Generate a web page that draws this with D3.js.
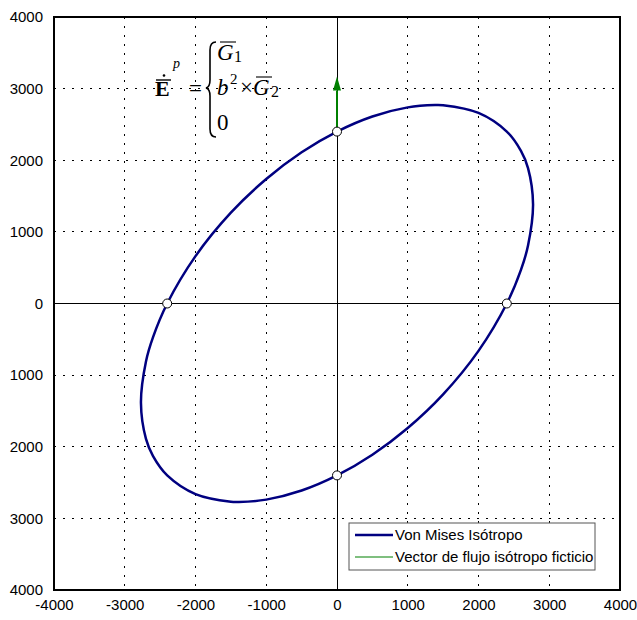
<!DOCTYPE html>
<html lang="es">
  <head>
    <meta charset="UTF-8" />
    <script src="https://cdn.jsdelivr.net/npm/d3@7"></script>
    <title>Von Mises</title>
    <style>
      body { margin: 0; background: white; }
      .tick text { font-family: "Liberation Sans", Arial, sans-serif; font-size: 15px; fill: black; }
      .formula { font-family: "Liberation Serif", "Times New Roman", serif; }
    </style>
  </head>
  <body>
    <script>
      // ---------- data ----------
      // von Mises ellipse (sigma1, sigma2), traced clockwise
      const sigma1 = [-2771, -2700, -2600, -2400, -2000, -1500, -1000, -500, 0, 500, 1000, 1386, 1500, 2000, 2400, 2600, 2700, 2771,
                      2700, 2600, 2400, 2000, 1500, 1000, 500, 0, -500, -1000, -1386, -1500, -2000, -2400, -2600, -2700];
      const sigma2 = [-1386, -809, -469, 0, 661, 1268, 1738, 2111, 2400, 2611, 2738, 2771, 2768, 2661, 2400, 2131, 1891, 1386,
                      809, 469, 0, -661, -1268, -1738, -2111, -2400, -2611, -2738, -2771, -2768, -2661, -2400, -2131, -1891];
      // intersection markers
      const markX = [0, 2400, -2400, 0];
      const markY = [2400, 0, 0, -2400];
      // fictitious flow vector
      const arrowFrom = [0, 2400];
      const arrowTo = [0, 3170];

      const xTicks = [-4000, -3000, -2000, -1000, 0, 1000, 2000, 3000, 4000];
      const xTickLabels = ["-4000", "-3000", "-2000", "-1000", "0", "1000", "2000", "3000", "4000"];
      const yTicks = [4000, 3000, 2000, 1000, 0, -1000, -2000, -3000, -4000];
      const yTickLabels = ["4000", "3000", "2000", "1000", "0", "1000", "2000", "3000", "4000"];
      const gridValues = [-3000, -2000, -1000, 1000, 2000, 3000];

      const legendNames = ["Von Mises Isótropo", "Vector de flujo isótropo ficticio"];
      const legendColors = ["#000080", "#008000"];

      // ---------- layout ----------
      const width = 637, height = 620;
      const plot = { left: 54, right: 620, top: 17, bottom: 590 };

      const x = d3.scaleLinear().domain([-4000, 4000]).range([plot.left, plot.right]);
      const y = d3.scaleLinear().domain([-4000, 4000]).range([plot.bottom, plot.top]);

      const svg = d3.select("body").append("svg")
        .attr("width", width).attr("height", height);

      // dotted grid
      svg.append("g").selectAll("line").data(gridValues).join("line")
        .attr("x1", d => x(d)).attr("x2", d => x(d))
        .attr("y1", plot.top).attr("y2", plot.bottom)
        .attr("stroke", "#000").attr("stroke-width", 1)
        .attr("shape-rendering", "crispEdges")
        .attr("stroke-dasharray", "2,7");
      svg.append("g").selectAll("line").data(gridValues).join("line")
        .attr("y1", d => y(d)).attr("y2", d => y(d))
        .attr("x1", plot.left).attr("x2", plot.right)
        .attr("stroke", "#000").attr("stroke-width", 1)
        .attr("shape-rendering", "crispEdges")
        .attr("stroke-dasharray", "2,7");

      // zero axes
      svg.append("line")
        .attr("x1", x(0)).attr("x2", x(0)).attr("y1", plot.top).attr("y2", plot.bottom)
        .attr("stroke", "#000").attr("stroke-width", 1).attr("shape-rendering", "crispEdges");
      svg.append("line")
        .attr("y1", y(0)).attr("y2", y(0)).attr("x1", plot.left).attr("x2", plot.right)
        .attr("stroke", "#000").attr("stroke-width", 1).attr("shape-rendering", "crispEdges");

      // tick labels via d3 axes
      const xAxis = d3.axisBottom(x).tickValues(xTicks)
        .tickFormat((d, i) => xTickLabels[i]).tickSize(0).tickPadding(9);
      svg.append("g").attr("transform", `translate(0,${plot.bottom})`).call(xAxis)
        .call(g => g.select(".domain").remove());
      const yAxis = d3.axisLeft(y).tickValues(yTicks)
        .tickFormat((d, i) => yTickLabels[i]).tickSize(0).tickPadding(11);
      svg.append("g").attr("transform", `translate(${plot.left},0)`).call(yAxis)
        .call(g => g.select(".domain").remove());

      // ellipse
      const pts = sigma1.map((s, i) => [s, sigma2[i]]);
      const line = d3.line().x(d => x(d[0])).y(d => y(d[1])).curve(d3.curveCatmullRomClosed);
      svg.append("path").datum(pts)
        .attr("d", line).attr("fill", "none")
        .attr("stroke", legendColors[0]).attr("stroke-width", 2.5);

      // flow vector
      const headLen = 14, headHalf = 4;
      svg.append("line")
        .attr("x1", x(arrowFrom[0])).attr("y1", y(arrowFrom[1]))
        .attr("x2", x(arrowTo[0])).attr("y2", y(arrowTo[1]) + headLen)
        .attr("stroke", legendColors[1]).attr("stroke-width", 2);
      const tx = x(arrowTo[0]), ty = y(arrowTo[1]);
      svg.append("path")
        .attr("d", `M${tx},${ty} L${tx - headHalf},${ty + headLen} L${tx + headHalf},${ty + headLen} Z`)
        .attr("fill", legendColors[1]);

      // markers
      svg.append("g").selectAll("circle").data(markX).join("circle")
        .attr("cx", d => x(d)).attr("cy", (d, i) => y(markY[i])).attr("r", 4.5)
        .attr("fill", "white").attr("stroke", "#000").attr("stroke-width", 1);

      // plot border
      svg.append("rect")
        .attr("x", plot.left).attr("y", plot.top)
        .attr("width", plot.right - plot.left).attr("height", plot.bottom - plot.top)
        .attr("fill", "none").attr("stroke", "#000").attr("stroke-width", 2);

      // legend
      const lg = svg.append("g").attr("transform", "translate(349,523)");
      lg.append("rect").attr("width", 246).attr("height", 47)
        .attr("fill", "white").attr("stroke", "#555").attr("stroke-width", 1);
      legendNames.forEach((name, i) => {
        const ly = 12 + i * 22;
        lg.append("line").attr("x1", 6).attr("x2", 44).attr("y1", ly).attr("y2", ly)
          .attr("stroke", legendColors[i]).attr("stroke-width", i === 0 ? 2.5 : 1.2);
        lg.append("text").attr("x", 46).attr("y", ly).attr("dy", "0.35em")
          .attr("font-family", "'Liberation Sans', Arial, sans-serif")
          .attr("font-size", 15).text(name);
      });

      // formula
      const f = svg.append("g").attr("class", "formula");
      f.append("text").attr("x", 155).attr("y", 96).attr("font-size", 22)
        .attr("font-weight", "bold").text("E");
      f.append("line").attr("x1", 156).attr("x2", 171).attr("y1", 80).attr("y2", 80)
        .attr("stroke", "#000").attr("stroke-width", 1.4);
      f.append("circle").attr("cx", 164).attr("cy", 75.5).attr("r", 1.3).attr("fill", "#000");
      f.append("text").attr("x", 173).attr("y", 68).attr("font-size", 14)
        .attr("font-style", "italic").text("p");
      f.append("text").attr("x", 189).attr("y", 96).attr("font-size", 23).text("=");
      f.append("path")
        .attr("d", "M216,42 Q210,42 210,50 L210,80 Q210,87 206,88 Q210,89 210,96 L210,129 Q210,137 216,137")
        .attr("fill", "none").attr("stroke", "#000").attr("stroke-width", 1.6);
      // row 1
      f.append("text").attr("x", 217).attr("y", 60).attr("font-size", 23)
        .attr("font-style", "italic").text("G");
      f.append("line").attr("x1", 220).attr("x2", 236).attr("y1", 42).attr("y2", 42)
        .attr("stroke", "#000").attr("stroke-width", 1.1);
      f.append("text").attr("x", 234).attr("y", 62).attr("font-size", 16).text("1");
      // row 2
      f.append("text").attr("x", 217).attr("y", 95).attr("font-size", 23)
        .attr("font-style", "italic").text("b");
      f.append("text").attr("x", 230).attr("y", 84).attr("font-size", 15).text("2");
      f.append("text").attr("x", 240).attr("y", 95).attr("font-size", 23).text("×");
      f.append("text").attr("x", 253).attr("y", 95).attr("font-size", 23)
        .attr("font-style", "italic").text("G");
      f.append("line").attr("x1", 256).attr("x2", 272).attr("y1", 77).attr("y2", 77)
        .attr("stroke", "#000").attr("stroke-width", 1.1);
      f.append("text").attr("x", 271).attr("y", 97).attr("font-size", 16).text("2");
      // row 3
      f.append("text").attr("x", 217).attr("y", 130).attr("font-size", 23).text("0");
    </script>
  </body>
</html>
